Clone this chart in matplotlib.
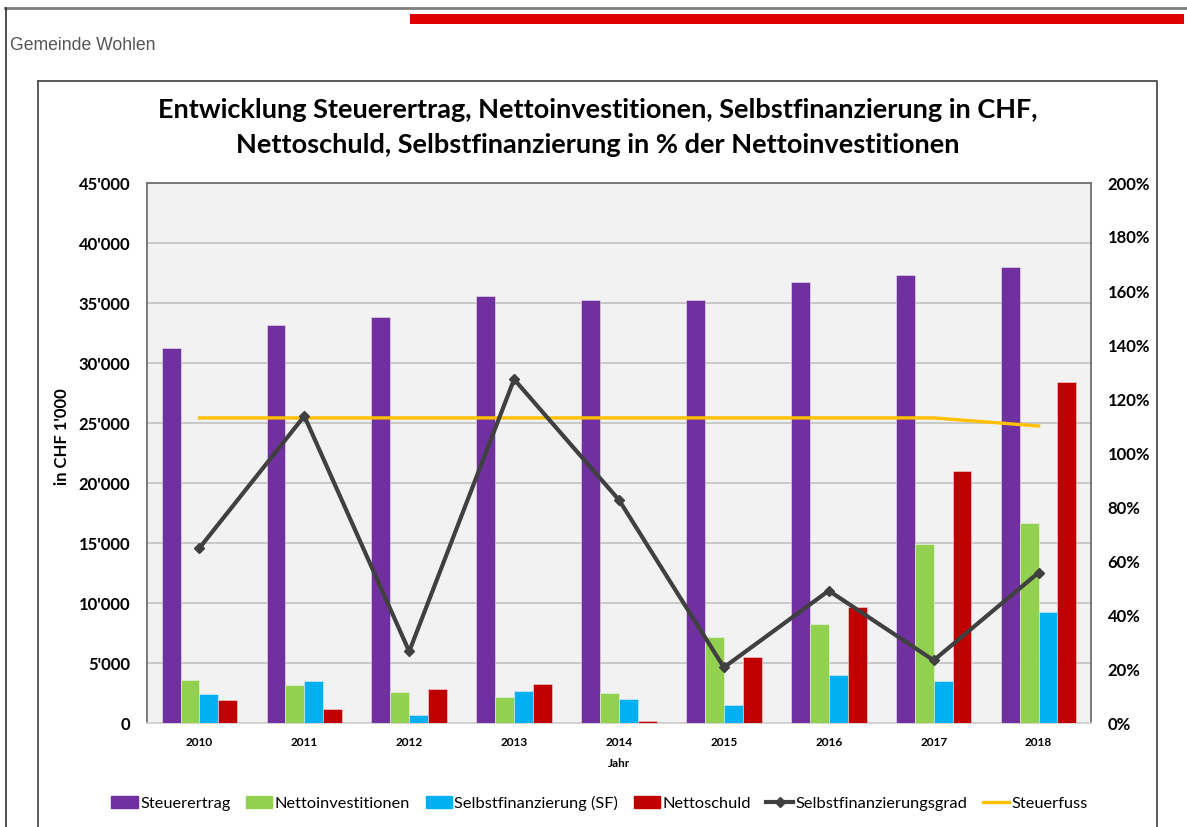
import numpy as np
import matplotlib.pyplot as plt
from matplotlib.patches import Rectangle, Patch
from matplotlib.lines import Line2D
from matplotlib.ticker import FuncFormatter, MultipleLocator

plt.rcParams['font.family'] = ['Lato', 'DejaVu Sans']

# Werte in CHF 1'000 bzw. Prozent
jahre = ['2010', '2011', '2012', '2013', '2014', '2015', '2016', '2017', '2018']
steuerertrag = [31280, 33140, 33830, 35580, 35250, 35250, 36720, 37360, 38030]
nettoinvest = [3610, 3140, 2580, 2140, 2470, 7140, 8250, 14920, 16690]
selbstfin = [2390, 3470, 690, 2690, 2030, 1470, 4030, 3470, 9250]
nettoschuld = [1940, 1140, 2810, 3250, 140, 5470, 9690, 21030, 28390]
sf_grad = [64.8, 113.7, 26.5, 127.3, 82.6, 20.6, 49.0, 23.2, 55.7]
steuerfuss = [113, 113, 113, 113, 113, 113, 113, 113, 110]

W, H = 1187, 827
fig = plt.figure(figsize=(W / 100, H / 100), dpi=100)


def fx(px):
    return px / W


def fy(py):
    return 1 - py / H


# page decoration
fig.add_artist(Line2D([fx(5), 1], [fy(7.5), fy(7.5)], color='#7f7f7f', lw=2))
fig.add_artist(Line2D([fx(6), fx(6)], [fy(7.5), 0], color='#303030', lw=1.2))
fig.add_artist(Rectangle((fx(410), fy(24)), fx(1184) - fx(410), fy(14) - fy(24),
                         color='#dc0000', lw=0))
fig.text(fx(10), fy(46), 'Gemeinde Wohlen', fontsize=12.7, color='#555555',
         family='Liberation Sans', va='center', ha='left')
fig.add_artist(Line2D([fx(38.5), fx(1157), fx(1157)], [fy(80.5), fy(80.5), 0],
                      color='#404040', lw=1.2))
fig.add_artist(Line2D([fx(38.5), fx(38.5)], [fy(80.5), 0], color='#404040', lw=1.2))

fig.text(0.504, fy(110), 'Entwicklung Steuerertrag, Nettoinvestitionen, Selbstfinanzierung in CHF,',
         fontsize=19.5, fontweight='bold', ha='center', va='center')
fig.text(0.504, fy(145), "Nettoschuld, Selbstfinanzierung in % der Nettoinvestitionen",
         fontsize=19.5, fontweight='bold', ha='center', va='center')

ax = fig.add_axes([fx(147), fy(723), fx(1091) - fx(147), fy(183) - fy(723)])
ax.set_facecolor('#f2f2f2')

x = np.arange(len(jahre))
bw = 0.18
series = [(steuerertrag, '#7030a0', 'Steuerertrag'),
          (nettoinvest, '#92d050', 'Nettoinvestitionen'),
          (selbstfin, '#00b0f0', 'Selbstfinanzierung (SF)'),
          (nettoschuld, '#c00000', 'Nettoschuld')]
for i, (vals, col, lab) in enumerate(series):
    ax.bar(x + (i - 1.5) * bw, vals, bw, color=col, edgecolor='#ffffff80',
           linewidth=0.6, zorder=3, label=lab)

ax.set_xlim(-0.5, len(jahre) - 0.5)
ax.set_ylim(0, 45000)
ax.yaxis.set_major_locator(MultipleLocator(5000))
ax.yaxis.set_major_formatter(FuncFormatter(lambda v, p: f"{int(v):,}".replace(',', "'")))
ax.set_xticks(x)
ax.set_xticklabels(jahre, fontsize=8.5, fontweight='bold')
ax.grid(axis='y', color='#c8c8c8', lw=1.4, zorder=0)
ax.set_axisbelow(True)
ax.tick_params(axis='y', length=0, pad=12, labelsize=12)
ax.tick_params(axis='x', length=0, pad=10)
for t in ax.get_yticklabels():
    t.set_fontweight('bold')
ax.set_ylabel("in CHF 1'000", fontsize=12, fontweight='bold')
ax.yaxis.set_label_coords(-0.082, 0.53)
ax.set_xlabel('Jahr', fontsize=8.5, fontweight='bold', labelpad=7)
ax.spines['left'].set_color('#707070')
ax.spines['top'].set_color('#707070')
ax.spines['right'].set_color('#707070')
ax.spines['bottom'].set_color('#d0d0d0')
for s in ax.spines.values():
    s.set_linewidth(1.3)

ax2 = ax.twinx()
ax2.plot(x, sf_grad, color='#404040', lw=3, marker='D', markersize=5,
         label='Selbstfinanzierungsgrad', zorder=5)
ax2.plot(x, steuerfuss, color='#ffc000', lw=2.4, label='Steuerfuss', zorder=4)
ax2.set_ylim(0, 200)
ax2.yaxis.set_major_locator(MultipleLocator(20))
ax2.yaxis.set_major_formatter(FuncFormatter(lambda v, p: f"{int(v)}%"))
ax2.tick_params(axis='y', length=0, pad=12, labelsize=12)
for t in ax2.get_yticklabels():
    t.set_fontweight('bold')
for s in ax2.spines.values():
    s.set_visible(False)

handles = [Patch(color=c, label=l) for _, c, l in series]
handles += [Line2D([], [], color='#404040', lw=3, marker='D', markersize=5,
                   label='Selbstfinanzierungsgrad'),
            Line2D([], [], color='#ffc000', lw=2.4, label='Steuerfuss')]
fig.legend(handles=handles, loc='center', bbox_to_anchor=(0.505, fy(803)),
           ncol=6, frameon=False, fontsize=11.8, handlelength=1.6,
           handleheight=0.75, handletextpad=0.15, columnspacing=0.95)

fig.savefig('out.png', dpi=100)
